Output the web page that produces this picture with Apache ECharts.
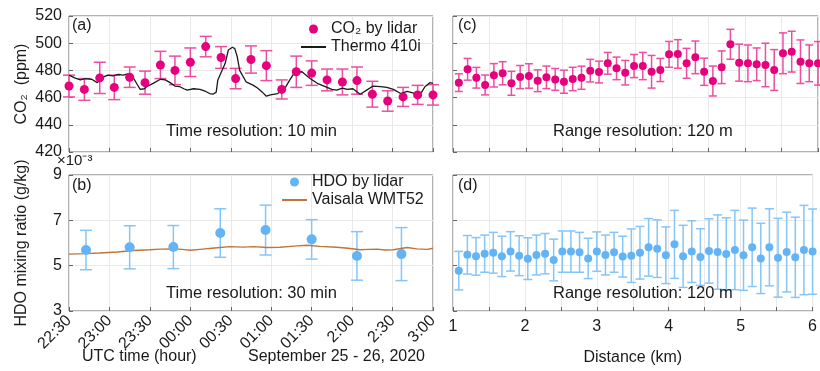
<!DOCTYPE html>
<html>
<head>
<meta charset="utf-8">
<script src="https://cdn.jsdelivr.net/npm/echarts@6/dist/echarts.min.js"></script>
<style>
html,body{margin:0;padding:0;background:#fff;}
#c{width:820px;height:371px;}
</style>
</head>
<body>
<div id="c"></div>
<script>
// ---------- data ----------
// time axis: hours after 22:30 UTC
const timeLabels = ["22:30","23:00","23:30","00:00","00:30","01:00","01:30","2:00","2:30","3:00"];
const distLabels = ["1","2","3","4","5","6"];

// (a) CO2 by lidar, 10-min resolution
const coTime = [0, 0.19, 0.38, 0.56, 0.75, 0.94, 1.13, 1.31, 1.5, 1.69, 1.88, 2.06, 2.25, 2.44, 2.63, 2.81, 3.0, 3.19, 3.38, 3.56, 3.75, 3.94, 4.13, 4.31, 4.5];
const coLidar = [468.5, 466, 474.5, 467.5, 475, 471, 484, 480, 486, 497.5, 489.5, 474, 488, 483.5, 466, 479, 478, 473, 471.5, 472.5, 462.5, 457.5, 460.5, 462, 462];
const coLidarErr = [8, 8, 11.5, 9, 7.5, 8.5, 10, 10.5, 10.5, 7.5, 8, 7.5, 10, 11, 7, 11.5, 9, 8, 9.5, 10, 9.5, 7.5, 7, 7, 7.5];

// (a) Thermo 410i in-situ CO2
const thermoTime = [0, 0.07, 0.14, 0.2, 0.28, 0.35, 0.42, 0.48, 0.54, 0.61, 0.67, 0.73, 0.79, 0.84, 0.88, 0.93, 0.96, 1.04, 1.13, 1.19, 1.25, 1.31, 1.37, 1.42, 1.46, 1.54, 1.62, 1.69, 1.74, 1.78, 1.82, 1.84, 1.9, 1.93, 1.97, 2.02, 2.05, 2.08, 2.11, 2.19, 2.28, 2.33, 2.39, 2.44, 2.49, 2.58, 2.67, 2.73, 2.79, 2.88, 2.98, 3.07, 3.19, 3.25, 3.31, 3.38, 3.44, 3.51, 3.6, 3.68, 3.76, 3.85, 3.93, 4.01, 4.1, 4.18, 4.25, 4.3, 4.36, 4.4, 4.46, 4.5];
const thermo = [476.5, 474.5, 473, 474, 473.5, 471, 475, 476.5, 476, 477, 476.5, 477.5, 475, 470, 466, 466.5, 468, 470.5, 473.5, 473, 471, 468.5, 468, 466.5, 465.5, 466.5, 466, 464.5, 463, 462.5, 464, 473, 481, 485, 495, 497, 496, 490, 480, 471.5, 469, 467, 464, 461, 462, 463, 467, 473, 478.5, 479, 474, 470.5, 467.5, 466, 465.5, 467, 466, 466.5, 462.5, 465.5, 468.5, 468, 467.5, 466, 463, 464.5, 463.5, 462, 464, 468, 471, 470.5];

// (b) HDO by lidar, 30-min resolution (x10^-3 g/kg)
const hdoTime = [0.21, 0.75, 1.29, 1.87, 2.43, 3.0, 3.56, 4.11];
const hdoLidar = [5.69, 5.81, 5.82, 6.44, 6.57, 6.16, 5.43, 5.51];
const hdoLidarErr = [0.87, 0.95, 0.95, 1.07, 1.1, 0.87, 1.07, 1.17];

// (b) Vaisala WMT52
const vaisalaTime = [0, 0.2, 0.38, 0.6, 0.79, 1.0, 1.13, 1.29, 1.4, 1.5, 1.62, 1.8, 1.99, 2.15, 2.28, 2.45, 2.61, 2.78, 2.94, 3.1, 3.31, 3.45, 3.6, 3.7, 3.81, 3.9, 4.01, 4.18, 4.3, 4.43, 4.5];
const vaisala = [5.51, 5.53, 5.56, 5.6, 5.67, 5.7, 5.73, 5.74, 5.72, 5.68, 5.72, 5.78, 5.84, 5.82, 5.84, 5.8, 5.81, 5.86, 5.9, 5.85, 5.81, 5.77, 5.7, 5.72, 5.73, 5.69, 5.7, 5.8, 5.74, 5.72, 5.77];

// (c),(d) range-resolved, 120 m resolution
const dist = [1.08, 1.2, 1.32, 1.44, 1.56, 1.68, 1.8, 1.92, 2.04, 2.16, 2.28, 2.4, 2.52, 2.64, 2.76, 2.88, 3.0, 3.12, 3.24, 3.36, 3.48, 3.6, 3.72, 3.84, 3.96, 4.08, 4.2, 4.32, 4.44, 4.56, 4.68, 4.8, 4.92, 5.04, 5.16, 5.28, 5.4, 5.52, 5.64, 5.76, 5.88, 6.0];
const coRange = [471, 480.8, 474.6, 469.3, 476.4, 477.9, 470.5, 475.1, 475.9, 472.4, 474.9, 473.4, 471.7, 473.7, 474.6, 479.8, 478.8, 485.2, 481.5, 478.3, 483.2, 483.2, 479, 480.3, 491.8, 492.1, 485.2, 489.6, 479, 472.2, 482.3, 499.2, 485.7, 485.2, 484.5, 484, 480.3, 492.6, 493.8, 486.4, 485.2, 485.2];
const coRangeErr = [6.5, 8, 7.6, 7.3, 8.6, 8.5, 8.8, 8.5, 9, 8, 8.3, 8, 8.5, 8.6, 8.5, 8.3, 8, 8, 8.3, 9, 8.5, 10, 12, 8.5, 9.5, 10.5, 11, 12, 10, 11, 12, 11, 13.6, 13.5, 12, 16, 15, 15, 15, 16, 13.5, 16];
const hdoRange = [4.78, 5.48, 5.41, 5.53, 5.57, 5.41, 5.63, 5.44, 5.31, 5.47, 5.53, 5.25, 5.62, 5.62, 5.59, 5.32, 5.62, 5.47, 5.59, 5.4, 5.44, 5.57, 5.81, 5.75, 5.46, 5.94, 5.41, 5.62, 5.38, 5.65, 5.6, 5.51, 5.69, 5.46, 5.81, 5.32, 5.81, 5.35, 5.6, 5.37, 5.69, 5.62];
const hdoRangeErr = [0.85, 0.85, 0.83, 0.82, 0.9, 0.89, 0.87, 0.88, 0.92, 0.88, 0.89, 0.92, 0.91, 0.91, 0.88, 0.89, 0.87, 0.88, 0.88, 0.9, 1.18, 1.16, 1.27, 1.27, 1.25, 1.5, 1.37, 1.36, 1.25, 1.42, 1.64, 1.6, 1.75, 1.55, 1.73, 1.55, 1.7, 1.74, 1.76, 1.77, 1.97, 1.88];

// ---------- helpers ----------
const FONT = '"Liberation Sans", Arial, sans-serif';
const TXT = '#1a1a1a';
const PINK = '#e6007e', PINK_ERR = '#ec4f9f';
const BLUE = '#63b4f5', BLUE_ERR = '#86c5f7';

function pairs(xs, ys){ return xs.map((x,i)=>[x, ys[i]]); }
function errData(xs, ys, es){ return xs.map((x,i)=>[x, ys[i]-es[i], ys[i]+es[i]]); }
function errSeries(idx, data, color, cap){
  return {
    type:'custom', xAxisIndex:idx, yAxisIndex:idx, data:data, z:2, silent:true,
    encode:{x:0, y:[1,2]},
    renderItem:function(params, api){
      const x = api.value(0);
      const p1 = api.coord([x, api.value(2)]);
      const p2 = api.coord([x, api.value(1)]);
      const st = {stroke:color, lineWidth:1.5};
      return {type:'group', children:[
        {type:'line', shape:{x1:p1[0], y1:p1[1], x2:p2[0], y2:p2[1]}, style:st},
        {type:'line', shape:{x1:p1[0]-cap, y1:p1[1], x2:p1[0]+cap, y2:p1[1]}, style:st},
        {type:'line', shape:{x1:p2[0]-cap, y1:p2[1], x2:p2[0]+cap, y2:p2[1]}, style:st}
      ]};
    }
  };
}
const splitLine = {show:true, lineStyle:{color:'#e9e9e9', width:1}};
const tick = {show:true, inside:true, length:4, lineStyle:{color:'#666'}};
const gridBase = {show:true, borderColor:'#666', borderWidth:1, backgroundColor:'transparent'};

function timeX(idx, showLabels){
  return {type:'value', gridIndex:idx, min:0, max:4.5, interval:0.5,
    axisLine:{show:false}, axisTick:tick, splitLine:splitLine,
    axisLabel:{show:showLabels, rotate:45, margin:7, fontSize:16, color:TXT, fontFamily:FONT,
      formatter:function(v){ return timeLabels[Math.round(v/0.5)]; }}};
}
function distX(idx, showLabels){
  return {type:'value', gridIndex:idx, min:1, max:6, interval:0.5,
    axisLine:{show:false}, axisTick:tick, splitLine:splitLine,
    name: showLabels ? 'Distance (km)' : '', nameLocation:'middle', nameGap:39,
    nameTextStyle:{fontSize:16, color:TXT, fontFamily:FONT},
    axisLabel:{show:showLabels, margin:8, fontSize:16, color:TXT, fontFamily:FONT,
      formatter:function(v){ return Math.abs(v - Math.round(v)) < 1e-6 ? distLabels[Math.round(v)-1] : ''; }}};
}
function yAx(idx, min, max, interval, showLabels, name){
  return {type:'value', gridIndex:idx, min:min, max:max, interval:interval,
    axisLine:{show:false}, axisTick:tick, splitLine:splitLine,
    name:name||'', nameLocation:'middle', nameGap:39, nameRotate:90,
    nameTextStyle:{fontSize:16, color:TXT, fontFamily:FONT},
    axisLabel:{show:showLabels, margin:7, fontSize:16, color:TXT, fontFamily:FONT}};
}
function txt(left, top, text, size){
  return {type:'text', left:left, top:top, z:100,
    style:{text:text, fill:TXT, font:(size||16) + 'px ' + FONT}};
}
const legendBase = {orient:'vertical', padding:0, itemWidth:25, itemHeight:9, itemGap:2,
  textStyle:{fontSize:16, color:TXT, fontFamily:FONT}};

const chart = echarts.init(document.getElementById('c'), null, {renderer:'canvas'});
chart.setOption({
  animation:false,
  backgroundColor:'#fff',
  textStyle:{fontFamily:FONT},
  grid:[
    Object.assign({left:69, top:16, width:364, height:136}, gridBase),
    Object.assign({left:69, top:175, width:364, height:136}, gridBase),
    Object.assign({left:453, top:16, width:365, height:136}, gridBase),
    Object.assign({left:453, top:175, width:365, height:136}, gridBase)
  ],
  xAxis:[timeX(0,false), timeX(1,true), distX(2,false), distX(3,true)],
  yAxis:[
    yAx(0, 420, 520, 20, true, 'CO\u2082  (ppm)'),
    yAx(1, 3, 9, 2, true, 'HDO mixing ratio (g/kg)'),
    yAx(2, 420, 520, 20, false),
    yAx(3, 3, 9, 2, false)
  ],
  legend:[
    Object.assign({left:300, top:21,
     data:[{name:'CO\u2082 by lidar', icon:'circle'}, {name:'Thermo 410i', itemStyle:{opacity:0}}]}, legendBase),
    Object.assign({left:281, top:174,
     data:[{name:'HDO by lidar', icon:'circle'}, {name:'Vaisala WMT52', itemStyle:{opacity:0}}]}, legendBase)
  ],
  series:[
    errSeries(0, errData(coTime, coLidar, coLidarErr), PINK_ERR, 6),
    {name:'Thermo 410i', type:'line', xAxisIndex:0, yAxisIndex:0, data:pairs(thermoTime, thermo),
     showSymbol:false, symbol:'none', z:3, lineStyle:{color:'#1a1a1a', width:1.3}, itemStyle:{color:'#1a1a1a'}},
    {name:'CO\u2082 by lidar', type:'scatter', xAxisIndex:0, yAxisIndex:0, data:pairs(coTime, coLidar),
     symbolSize:9, z:4, clip:false, itemStyle:{color:PINK, opacity:1}},

    errSeries(1, errData(hdoTime, hdoLidar, hdoLidarErr), BLUE_ERR, 6),
    {name:'Vaisala WMT52', type:'line', xAxisIndex:1, yAxisIndex:1, data:pairs(vaisalaTime, vaisala),
     showSymbol:false, symbol:'none', z:3, lineStyle:{color:'#c0733a', width:1.4}, itemStyle:{color:'#c0733a'}},
    {name:'HDO by lidar', type:'scatter', xAxisIndex:1, yAxisIndex:1, data:pairs(hdoTime, hdoLidar),
     symbolSize:10, z:4, itemStyle:{color:BLUE, opacity:1}},

    errSeries(2, errData(dist, coRange, coRangeErr), PINK_ERR, 4),
    {name:'CO2 range', type:'scatter', xAxisIndex:2, yAxisIndex:2, data:pairs(dist, coRange),
     symbolSize:8, z:4, clip:false, itemStyle:{color:PINK, opacity:1}},

    errSeries(3, errData(dist, hdoRange, hdoRangeErr), BLUE_ERR, 4.5),
    {name:'HDO range', type:'scatter', xAxisIndex:3, yAxisIndex:3, data:pairs(dist, hdoRange),
     symbolSize:8, z:4, clip:false, itemStyle:{color:BLUE, opacity:1}}
  ],
  graphic:[
    txt(72, 18, '(a)'),
    txt(72, 178, '(b)'),
    txt(458, 18, '(c)'),
    txt(458, 178, '(d)'),
    txt(166, 123, 'Time resolution: 10 min', 16.5),
    txt(166, 285, 'Time resolution: 30 min', 16.5),
    txt(553, 123, 'Range resolution: 120 m', 16.5),
    txt(553, 285, 'Range resolution: 120 m', 16.5),
    txt(57, 153, '\u00d710\u207b\u00b3', 15),
    txt(82, 349, 'UTC time (hour)'),
    txt(248, 349, 'September 25 - 26, 2020')
  ]
});
</script>
</body>
</html>
